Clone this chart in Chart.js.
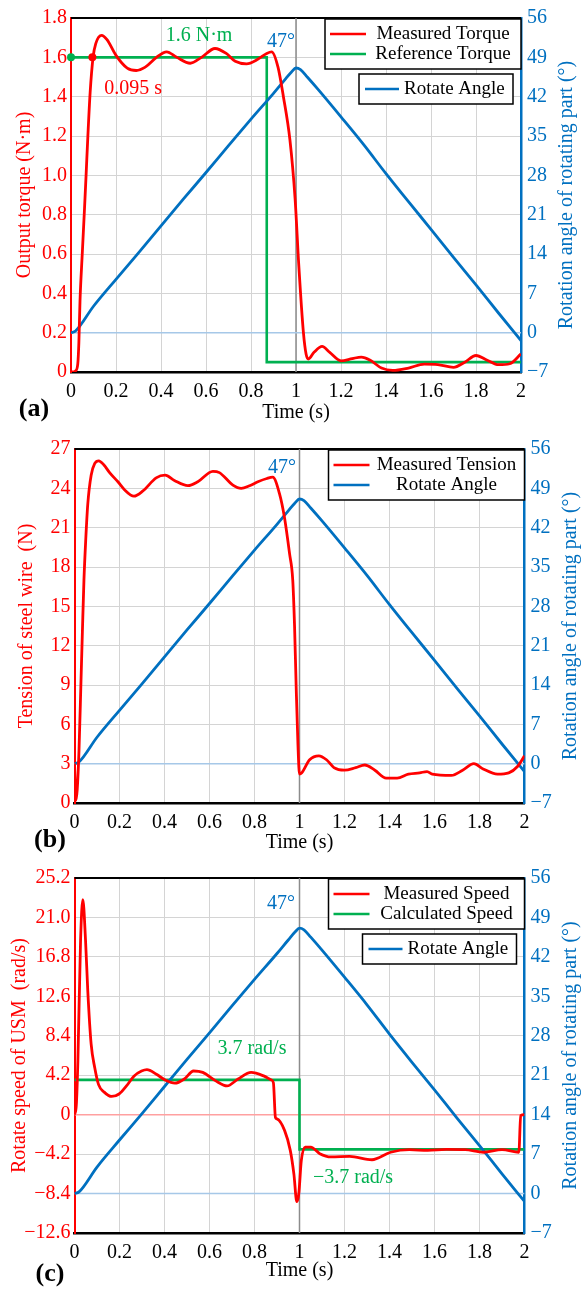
<!DOCTYPE html>
<html>
<head>
<meta charset="utf-8">
<script src="https://cdn.jsdelivr.net/npm/chart.js@4.4.1/dist/chart.umd.min.js"></script>
<style>
  body { margin: 0; background: #fff; }
  .panel { position: absolute; left: 0; width: 582px; }
</style>
</head>
<body>
<div class="panel" style="top:0"><canvas id="chartA" width="582" height="430"></canvas></div>
<div class="panel" style="top:430px"><canvas id="chartB" width="582" height="430"></canvas></div>
<div class="panel" style="top:860px"><canvas id="chartC" width="582" height="433"></canvas></div>
<script>
// ticks
var timeTicks = [0, 0.2, 0.4, 0.6, 0.8, 1, 1.2, 1.4, 1.6, 1.8, 2];
var timeLabels = ['0', '0.2', '0.4', '0.6', '0.8', '1', '1.2', '1.4', '1.6', '1.8', '2'];
var angleTicks = [-7, 0, 7, 14, 21, 28, 35, 42, 49, 56];
var angleLabels = ['\u22127', '0', '7', '14', '21', '28', '35', '42', '49', '56'];
var torqueTicks = [0, 0.2, 0.4, 0.6, 0.8, 1.0, 1.2, 1.4, 1.6, 1.8];
var torqueLabels = ['0', '0.2', '0.4', '0.6', '0.8', '1.0', '1.2', '1.4', '1.6', '1.8'];
var tensionTicks = [0, 3, 6, 9, 12, 15, 18, 21, 24, 27];
var tensionLabels = ['0', '3', '6', '9', '12', '15', '18', '21', '24', '27'];
var speedTicks = [-12.6, -8.4, -4.2, 0, 4.2, 8.4, 12.6, 16.8, 21.0, 25.2];
var speedLabels = ['\u221212.6', '\u22128.4', '\u22124.2', '0', '4.2', '8.4', '12.6', '16.8', '21.0', '25.2'];

// rotate angle of the rotating part (deg), same run in every panel
var angleTime = [0, 0.02, 0.1, 0.2, 0.3, 0.4, 0.5, 0.6, 0.7, 0.8, 0.9, 0.95, 0.98, 1.0, 1.02, 1.05, 1.1, 1.2, 1.3, 1.4, 1.5, 1.6, 1.7, 1.8, 1.9, 2.0];
var angleDeg = [0, 0.3, 4.7, 9.5, 14.2, 19.0, 23.8, 28.5, 33.3, 38.0, 42.6, 45.0, 46.4, 47.1, 46.8, 45.5, 43.2, 38.4, 33.5, 28.3, 23.3, 18.4, 13.4, 8.5, 3.5, -1.4];
var peakTime = [1, 1];
var peakSpan = [-7, 56];
var zeroTime = [0, 2];
var zeroAngle = [0, 0];

// (a) output torque (N·m)
var torqueTime = [0, 0.01, 0.02, 0.03, 0.035, 0.04, 0.05, 0.06, 0.067, 0.075, 0.085, 0.098, 0.11, 0.136, 0.16, 0.2, 0.25, 0.29, 0.33, 0.38, 0.425, 0.47, 0.53, 0.58, 0.64, 0.69, 0.73, 0.78, 0.83, 0.87, 0.892, 0.92, 0.944, 0.973, 0.996, 1.012, 1.033, 1.045, 1.055, 1.08, 1.116, 1.15, 1.2, 1.25, 1.29, 1.33, 1.38, 1.43, 1.5, 1.57, 1.63, 1.7, 1.75, 1.8, 1.85, 1.9, 1.95, 2.0];
var torqueMeasured = [0, 0, 0.005, 0.04, 0.15, 0.36, 0.6, 0.83, 1.0, 1.2, 1.42, 1.6, 1.67, 1.712, 1.69, 1.61, 1.545, 1.533, 1.55, 1.6, 1.628, 1.6, 1.57, 1.6, 1.645, 1.62, 1.58, 1.567, 1.59, 1.62, 1.628, 1.55, 1.4, 1.18, 0.88, 0.55, 0.2, 0.09, 0.066, 0.1, 0.13, 0.1, 0.057, 0.068, 0.076, 0.06, 0.02, 0.008, 0.02, 0.04, 0.038, 0.024, 0.05, 0.084, 0.06, 0.037, 0.042, 0.092];
var torqueRefTime = [0, 0.87, 0.87, 2];
var torqueRef = [1.6, 1.6, 0.05, 0.05];
var riseTime = [0, 0.095];
var riseTorque = [1.6, 1.6];

// (b) tension of steel wire (N)
var tensionTime = [0, 0.006, 0.012, 0.02, 0.029, 0.035, 0.042, 0.05, 0.059, 0.074, 0.09, 0.108, 0.13, 0.156, 0.193, 0.222, 0.264, 0.304, 0.363, 0.403, 0.444, 0.504, 0.548, 0.615, 0.644, 0.704, 0.741, 0.778, 0.815, 0.855, 0.881, 0.911, 0.933, 0.956, 0.97, 0.978, 0.985, 0.993, 1.0, 1.01, 1.045, 1.086, 1.12, 1.153, 1.2, 1.25, 1.29, 1.335, 1.385, 1.434, 1.484, 1.534, 1.567, 1.59, 1.675, 1.725, 1.775, 1.816, 1.88, 1.93, 1.97, 2.0];
var tensionMeasured = [3.0, 0.2, 1.0, 4.0, 9.4, 13, 17, 20.1, 22.8, 25.0, 25.9, 26.1, 25.8, 25.2, 24.5, 23.9, 23.4, 23.8, 24.8, 25.0, 24.6, 24.2, 24.5, 25.3, 25.2, 24.25, 24.0, 24.2, 24.5, 24.75, 24.85, 23.6, 21.8, 19.0, 17.0, 13.5, 9.0, 4.5, 2.2, 2.3, 3.3, 3.6, 3.3, 2.7, 2.5, 2.7, 2.9, 2.5, 1.9, 1.9, 2.2, 2.3, 2.4, 2.2, 2.1, 2.5, 3.0, 2.6, 2.2, 2.3, 2.8, 3.6];

// (c) rotate speed of USM (rad/s)
var speedTime = [0, 0.008, 0.015, 0.027, 0.037, 0.049, 0.059, 0.074, 0.09, 0.107, 0.132, 0.165, 0.198, 0.231, 0.264, 0.298, 0.322, 0.364, 0.405, 0.446, 0.488, 0.529, 0.57, 0.628, 0.678, 0.727, 0.785, 0.843, 0.875, 0.884, 0.893, 0.9, 0.934, 0.959, 0.975, 0.988, 0.997, 1.008, 1.025, 1.05, 1.09, 1.14, 1.223, 1.322, 1.405, 1.488, 1.57, 1.653, 1.736, 1.818, 1.9, 1.975, 1.983, 2.0];
var speedMeasured = [0, 1.0, 5.7, 18.6, 22.9, 18.6, 13.2, 7.5, 5.0, 3.2, 2.4, 1.94, 2.2, 3.06, 4.1, 4.65, 4.8, 4.3, 3.66, 3.35, 3.8, 4.65, 4.5, 3.6, 3.06, 3.8, 4.5, 4.1, 3.7, 3.4, -0.3, -0.45, -1.7, -3.8, -6.3, -9.26, -8.4, -4.9, -3.45, -3.45, -4.15, -4.5, -4.44, -4.8, -4.0, -3.73, -3.8, -3.7, -3.73, -4.0, -3.73, -4.0, -0.1, 0];
var speedCalcTime = [0, 1, 1, 2];
var speedCalc = [3.7, 3.7, -3.7, -3.7];
var zeroSpeed = [0, 0];

const SERIF = "'Liberation Serif', 'Times New Roman', serif";
const RED = '#ff0000', GREEN = '#00b050', BLUE = '#0070c0';
const GRID = '#d4d4d4', LIGHT_BLUE = '#a6c8e8', LIGHT_RED = '#ffa0a0', MARK = '#8c8c8c';

function pts(xs, ys) {
    return xs.map((x, i) => ({x: x, y: ys[i]}));
}

function curve(label, xs, ys, color, axis, order) {
    return {label: label, data: pts(xs, ys), yAxisID: axis, borderColor: color, backgroundColor: color,
        borderWidth: 2.8, pointRadius: 0, cubicInterpolationMode: 'monotone', order: order};
}

function step(label, xs, ys, color, axis) {
    return {label: label, data: pts(xs, ys), yAxisID: axis, borderColor: color, backgroundColor: color,
        borderWidth: 2.6, pointRadius: 0, tension: 0, order: 2};
}

function guide(xs, ys, color, axis) {
    return {label: '', data: pts(xs, ys), yAxisID: axis, borderColor: color,
        borderWidth: 1.5, pointRadius: 0, tension: 0, order: 5};
}

function fixTicks(values) {
    return function (scale) { scale.ticks = values.map(v => ({value: v})); };
}

function buildScales(p) {
    var font = {family: SERIF, size: 20};
    return {
        x: {
            type: 'linear', min: 0, max: 2,
            afterBuildTicks: fixTicks(timeTicks),
            afterFit: s => { s.height = p.xH; },
            ticks: {color: '#000', font: font, padding: 8, autoSkip: false, maxRotation: 0,
                callback: (v, i) => timeLabels[i]},
            grid: {color: GRID, drawTicks: false},
            border: {color: '#000', width: 2.5},
            title: {display: true, text: 'Time (s)', color: '#000', font: font, padding: {top: 0, bottom: p.xTitlePad}}
        },
        y: {
            position: 'left', min: p.ticks[0], max: p.ticks[p.ticks.length - 1],
            afterBuildTicks: fixTicks(p.ticks),
            afterFit: s => { s.width = p.L; },
            ticks: {color: RED, font: font, padding: 4, callback: (v, i) => p.labels[i]},
            grid: {color: GRID, drawTicks: false},
            border: {color: RED, width: 2},
            title: {display: true, text: p.title, color: RED, font: font, padding: {top: p.yTitlePad, bottom: 0}}
        },
        yr: {
            position: 'right', min: -7, max: 56,
            afterBuildTicks: fixTicks(angleTicks),
            afterFit: s => { s.width = 582 - p.R; },
            ticks: {color: BLUE, font: font, padding: 6, callback: (v, i) => angleLabels[i]},
            grid: {display: false, drawTicks: false},
            border: {color: BLUE, width: 2.5}
        }
    };
}

// frame top, right title, notes, legend boxes and panel letter
function makeDecor(p) {
    return {
        id: 'decor',
        beforeDatasetsDraw(chart) {
            const ctx = chart.ctx, a = chart.chartArea;
            ctx.save();
            ctx.strokeStyle = '#000';
            ctx.lineWidth = 2;
            ctx.beginPath();
            ctx.moveTo(a.left, a.top);
            ctx.lineTo(a.right, a.top);
            ctx.stroke();
            ctx.restore();
        },
        afterDraw(chart) {
            const ctx = chart.ctx, a = chart.chartArea, sc = chart.scales;
            ctx.save();
            ctx.textBaseline = 'middle';

            ctx.save();
            ctx.translate(a.right + 46, (a.top + a.bottom) / 2);
            ctx.rotate(-Math.PI / 2);
            ctx.fillStyle = BLUE;
            ctx.font = '20px ' + SERIF;
            ctx.textAlign = 'center';
            ctx.fillText('Rotation angle of rotating part (\u00b0)', 0, 0);
            ctx.restore();

            ctx.font = '20px ' + SERIF;
            ctx.textAlign = 'center';
            p.notes.forEach(n => {
                ctx.fillStyle = n.color;
                ctx.fillText(n.text, sc.x.getPixelForValue(n.t), sc[n.axis].getPixelForValue(n.v));
            });

            ctx.font = '19px ' + SERIF;
            ctx.lineWidth = 1.5;
            var r = a.right, t = a.top;
            // first box, two rows
            ctx.fillStyle = '#fff';
            ctx.fillRect(r - 196, t + 1, 196, 50);
            ctx.strokeStyle = '#000';
            ctx.strokeRect(r - 196, t + 1, 196, 50);
            p.legend1.forEach((row, i) => {
                var y = t + 16 + i * 20;
                ctx.strokeStyle = row.color;
                ctx.lineWidth = 2.5;
                ctx.beginPath();
                ctx.moveTo(r - 191, y);
                ctx.lineTo(r - 155, y);
                ctx.stroke();
                ctx.fillStyle = '#000';
                ctx.textAlign = 'center';
                ctx.fillText(row.label, r - 78, y);
            });
            // second box, angle only
            if (p.legend2) {
                ctx.lineWidth = 1.5;
                ctx.fillStyle = '#fff';
                ctx.fillRect(r - 162, t + 56, 154, 30);
                ctx.strokeStyle = '#000';
                ctx.strokeRect(r - 162, t + 56, 154, 30);
                ctx.strokeStyle = p.legend2.color;
                ctx.lineWidth = 2.5;
                ctx.beginPath();
                ctx.moveTo(r - 156, t + 71);
                ctx.lineTo(r - 122, t + 71);
                ctx.stroke();
                ctx.fillStyle = '#000';
                ctx.textAlign = 'left';
                ctx.fillText(p.legend2.label, r - 117, t + 71);
            }

            ctx.font = 'bold 26px ' + SERIF;
            ctx.textAlign = 'center';
            ctx.fillStyle = '#000';
            ctx.fillText(p.letter, p.letterX, p.letterY);
            ctx.restore();
        }
    };
}

function makeChart(id, p, datasets) {
    return new Chart(document.getElementById(id), {
        type: 'line',
        data: {datasets: datasets},
        options: {
            responsive: false,
            animation: false,
            layout: {padding: {top: p.T, bottom: 0, left: 0, right: 0}},
            scales: buildScales(p),
            plugins: {legend: {display: false}, tooltip: {enabled: false}}
        },
        plugins: [makeDecor(p)]
    });
}

var angleSet = () => curve('Rotate Angle', angleTime, angleDeg, BLUE, 'yr', 1);

makeChart('chartA', {
    T: 16, L: 71, R: 521, xH: 58, yTitlePad: 13, xTitlePad: 5,
    ticks: torqueTicks, labels: torqueLabels, title: 'Output torque (N\u00b7m)',
    letter: '(a)', letterX: 34, letterY: 409,
    notes: [
        {text: '1.6 N\u00b7m', t: 0.569, v: 1.71, axis: 'y', color: GREEN},
        {text: '0.095 s', t: 0.276, v: 1.44, axis: 'y', color: RED},
        {text: '47\u00b0', t: 0.933, v: 51.7, axis: 'yr', color: BLUE}
    ],
    legend1: [{label: 'Measured Torque', color: RED}, {label: 'Reference Torque', color: GREEN}],
    legend2: {label: 'Rotate Angle', color: BLUE}
}, [
    curve('Measured Torque', torqueTime, torqueMeasured, RED, 'y', 0),
    step('Reference Torque', torqueRefTime, torqueRef, GREEN, 'y'),
    angleSet(),
    {label: '', data: pts(riseTime, riseTorque), yAxisID: 'y', showLine: false, pointRadius: 4,
        pointBackgroundColor: [GREEN, RED], pointBorderWidth: 0, clip: false, order: 0},
    guide(zeroTime, zeroAngle, LIGHT_BLUE, 'yr'),
    guide(peakTime, peakSpan, MARK, 'yr')
]);

makeChart('chartB', {
    T: 19, L: 74.5, R: 524.5, xH: 57, yTitlePad: 15, xTitlePad: 5,
    ticks: tensionTicks, labels: tensionLabels, title: 'Tension of steel wire  (N)',
    letter: '(b)', letterX: 50, letterY: 410,
    notes: [
        {text: '47\u00b0', t: 0.922, v: 52.6, axis: 'yr', color: BLUE}
    ],
    legend1: [{label: 'Measured Tension', color: RED}, {label: 'Rotate Angle', color: BLUE}],
    legend2: null
}, [
    curve('Measured Tension', tensionTime, tensionMeasured, RED, 'y', 0),
    angleSet(),
    guide(zeroTime, zeroAngle, LIGHT_BLUE, 'yr'),
    guide(peakTime, peakSpan, MARK, 'yr')
]);

makeChart('chartC', {
    T: 18, L: 74.5, R: 524.5, xH: 60, yTitlePad: 8, xTitlePad: 10,
    ticks: speedTicks, labels: speedLabels, title: 'Rotate speed of USM  (rad/s)',
    letter: '(c)', letterX: 50, letterY: 414,
    notes: [
        {text: '47\u00b0', t: 0.918, v: 51.4, axis: 'yr', color: BLUE},
        {text: '3.7 rad/s', t: 0.789, v: 7.0, axis: 'y', color: GREEN},
        {text: '\u22123.7 rad/s', t: 1.238, v: -6.75, axis: 'y', color: GREEN}
    ],
    legend1: [{label: 'Measured Speed', color: RED}, {label: 'Calculated Speed', color: GREEN}],
    legend2: {label: 'Rotate Angle', color: BLUE}
}, [
    curve('Measured Speed', speedTime, speedMeasured, RED, 'y', 0),
    step('Calculated Speed', speedCalcTime, speedCalc, GREEN, 'y'),
    angleSet(),
    guide(zeroTime, zeroSpeed, LIGHT_RED, 'y'),
    guide(zeroTime, zeroAngle, LIGHT_BLUE, 'yr'),
    guide(peakTime, peakSpan, MARK, 'yr')
]);
</script>
</body>
</html>
